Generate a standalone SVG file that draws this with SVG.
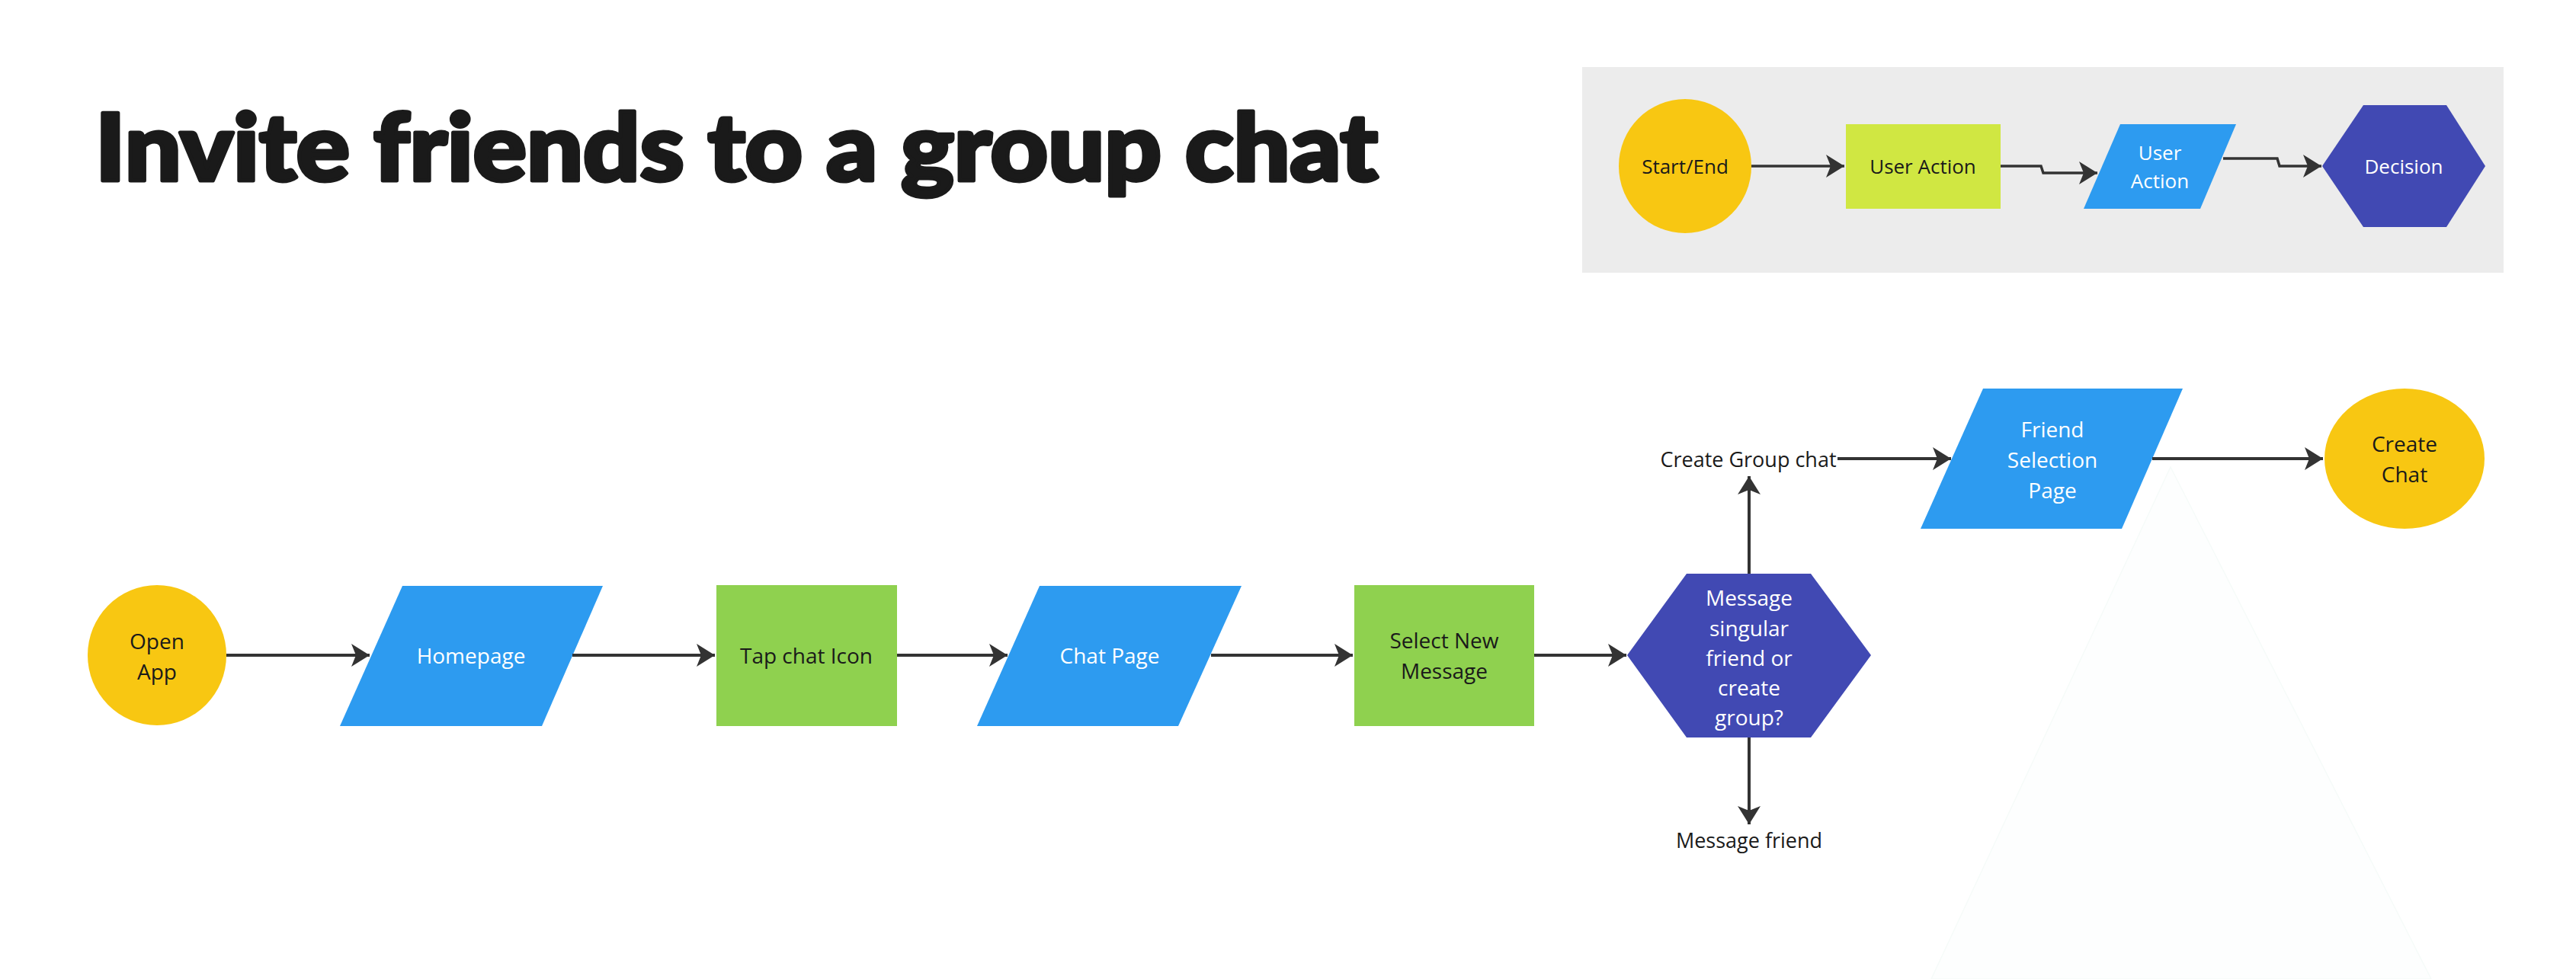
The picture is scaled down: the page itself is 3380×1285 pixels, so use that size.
<svg xmlns="http://www.w3.org/2000/svg" width="3380" height="1285" viewBox="0 0 3380 1285">
<defs>
<style>
.t{font-family:"Open Sans","Liberation Sans",sans-serif;font-size:28px;text-anchor:middle;dominant-baseline:central;fill:#1a1a1a}
.w{fill:#ffffff}
.lg{font-size:26px}
.el{font-size:27px}
.yel{fill:#f8c712}
.blu{fill:#2d9bf0}
.grn{fill:#8fd14f}
.ind{fill:#4149b3}
.lim{fill:#d0e742}
.c{fill:none;stroke:#333333;stroke-width:4}
.cl{fill:none;stroke:#333333;stroke-width:3.5}
</style>
<marker id="ah" markerUnits="userSpaceOnUse" markerWidth="26" markerHeight="32" refX="24" refY="15" orient="auto" viewBox="0 0 26 32">
<path d="M0,0 L24,15 L0,30 L6,15 Z" fill="#333333"/>
</marker>
</defs>
<rect width="3380" height="1285" fill="#ffffff"/>
<polygon points="2848,613 3190,1285 2534,1285" fill="#fdfefe" stroke="#f6fbf9" stroke-width="1.5"/>

<text x="125" y="237" font-family="Lato,'Open Sans','Liberation Sans',sans-serif" font-weight="900" font-size="122" fill="#1a1a1a" stroke="#1a1a1a" stroke-width="5" stroke-linejoin="round" textLength="1683" lengthAdjust="spacingAndGlyphs">Invite friends to a group chat</text>

<g id="legend">
<rect x="2076" y="88" width="1209" height="270" fill="#ececec"/>
<g id="legend-start"><ellipse cx="2211" cy="218" rx="87" ry="88" class="yel"/><text class="t lg" x="2211" y="218">Start/End</text></g>
<g id="legend-action"><rect x="2422" y="163" width="203" height="111" class="lim"/><text class="t lg" x="2523" y="218">User Action</text></g>
<g id="legend-action2"><polygon points="2782,163 2934,163 2887,274 2734,274" class="blu"/><text class="t lg w" x="2834" y="200">User</text><text class="t lg w" x="2834" y="237">Action</text></g>
<g id="legend-decision"><polygon points="3047,218 3101,138 3210,138 3261,218 3210,298 3101,298" class="ind"/><text class="t lg w" x="3154" y="218">Decision</text></g>
<g id="legend-connectors">
<path class="cl" d="M2298,218 L2420,218" marker-end="url(#ah)"/>
<path class="cl" d="M2625,218 L2678,218 L2681,227 L2752,227" marker-end="url(#ah)"/>
<path class="cl" d="M2917,208 L2988,208 L2991,218 L3046,218" marker-end="url(#ah)"/>
</g>
</g>

<g id="open-app"><ellipse cx="206" cy="860" rx="91" ry="92" class="yel"/><text class="t" x="206" y="841">Open</text><text class="t" x="206" y="881">App</text></g>
<g id="homepage"><polygon points="528,769 791,769 711,953 446,953" class="blu"/><text class="t w" x="618" y="860">Homepage</text></g>
<g id="tap-chat"><rect x="940" y="768" width="237" height="185" class="grn"/><text class="t" x="1058" y="860">Tap chat Icon</text></g>
<g id="chat-page"><polygon points="1364,769 1629,769 1546,953 1282,953" class="blu"/><text class="t w" x="1456" y="860">Chat Page</text></g>
<g id="select-new"><rect x="1777" y="768" width="236" height="185" class="grn"/><text class="t" x="1895" y="840">Select New</text><text class="t" x="1895" y="880">Message</text></g>
<g id="decision"><polygon points="2135,860 2213,753 2376,753 2455,860 2376,968 2213,968" class="ind"/>
<text class="t w" x="2295" y="784">Message</text><text class="t w" x="2295" y="824">singular</text><text class="t w" x="2295" y="863">friend or</text><text class="t w" x="2295" y="902">create</text><text class="t w" x="2295" y="941">group?</text></g>
<g id="friend-selection"><polygon points="2602,510 2864,510 2784,694 2520,694" class="blu"/>
<text class="t w" x="2693" y="563">Friend</text><text class="t w" x="2693" y="603">Selection</text><text class="t w" x="2693" y="643">Page</text></g>
<g id="create-chat"><ellipse cx="3155" cy="602" rx="105" ry="92" class="yel"/><text class="t" x="3155" y="582">Create</text><text class="t" x="3155" y="622">Chat</text></g>

<g id="connectors">
<path class="c" d="M297,860 L485,860" marker-end="url(#ah)"/>
<path class="c" d="M751,860 L938,860" marker-end="url(#ah)"/>
<path class="c" d="M1177,860 L1322,860" marker-end="url(#ah)"/>
<path class="c" d="M1589,860 L1775,860" marker-end="url(#ah)"/>
<path class="c" d="M2013,860 L2134,860" marker-end="url(#ah)"/>
<path class="c" d="M2295,753 L2295,625" marker-end="url(#ah)"/>
<text class="t el" x="2294" y="602">Create Group chat</text>
<path class="c" d="M2411,602 L2560,602" marker-end="url(#ah)"/>
<path class="c" d="M2824,602 L3048,602" marker-end="url(#ah)"/>
<path class="c" d="M2295,968 L2295,1082" marker-end="url(#ah)"/>
<text class="t el" x="2295" y="1102">Message friend</text>
</g>
</svg>
